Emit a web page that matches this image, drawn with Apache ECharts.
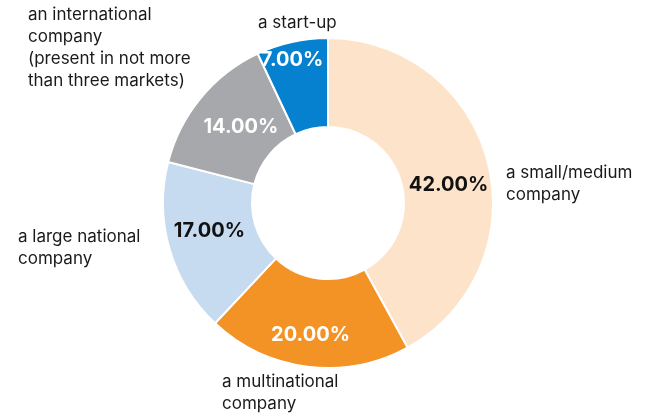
<!DOCTYPE html>
<html lang="en">
<head>
    <meta charset="UTF-8">
    <script src="https://cdn.jsdelivr.net/npm/echarts@6/dist/echarts.min.js"></script>
    <title>Company type</title>
    <style>
        body { margin: 0; background: #fff; }
        #main { width: 650px; height: 419px; }
    </style>
</head>
<body>
<div id="main"></div>
<script>
    // data, clockwise from the top
    let categories = [
        'a small/medium\ncompany',
        'a multinational\ncompany',
        'a large national\ncompany',
        'an international\ncompany\n(present in not more\nthan three markets)',
        'a start-up'
    ];
    let shares = [42, 20, 17, 14, 7];
    let colors = ['#FDE3C9', '#F39325', '#C6DBF0', '#A7A8AB', '#0581D0'];
    let pctColors = ['#111', '#fff', '#111', '#fff', '#fff'];

    // label tweaks
    let pctShift = [[1, 13], [-2, 9], [0, -6], [8, 3], [-9, -22]];
    let namePos = [[506, 162], [222, 371], [18, 226], [28, 4], [258, 12]];

    let myChart = echarts.init(document.getElementById('main'));
    let font = 'Inter, "Noto Sans", sans-serif';

    let pieData = shares.map((v, i) => ({
        name: categories[i],
        value: v,
        itemStyle: { color: colors[i] },
        label: { color: pctColors[i] }
    }));

    let option = {
        animation: false,
        series: [
            {
                type: 'pie',
                center: [328, 203],
                radius: [76, 165],
                startAngle: 90,
                itemStyle: { borderColor: '#fff', borderWidth: 2 },
                label: {
                    position: 'inside',
                    formatter: p => p.value.toFixed(2) + '%',
                    fontFamily: font,
                    fontWeight: 'bold',
                    fontSize: 20
                },
                labelLayout: p => ({ dx: pctShift[p.dataIndex][0], dy: pctShift[p.dataIndex][1] }),
                labelLine: { show: false },
                data: pieData
            },
            {
                type: 'pie',
                silent: true,
                z: 1,
                center: [328, 203],
                radius: [76, 165],
                startAngle: 90,
                itemStyle: { color: 'rgba(0,0,0,0)', borderWidth: 0 },
                label: {
                    show: true,
                    position: 'outside',
                    formatter: '{b}',
                    fontFamily: font,
                    fontSize: 17,
                    lineHeight: 22,
                    overflow: 'none',
                    color: '#1a1a1a'
                },
                labelLine: { show: false },
                labelLayout: p => ({
                    x: namePos[p.dataIndex][0],
                    y: namePos[p.dataIndex][1],
                    align: 'left',
                    verticalAlign: 'top'
                }),
                data: shares.map((v, i) => ({ name: categories[i], value: v }))
            }
        ]
    };
    myChart.setOption(option);
</script>
</body>
</html>
